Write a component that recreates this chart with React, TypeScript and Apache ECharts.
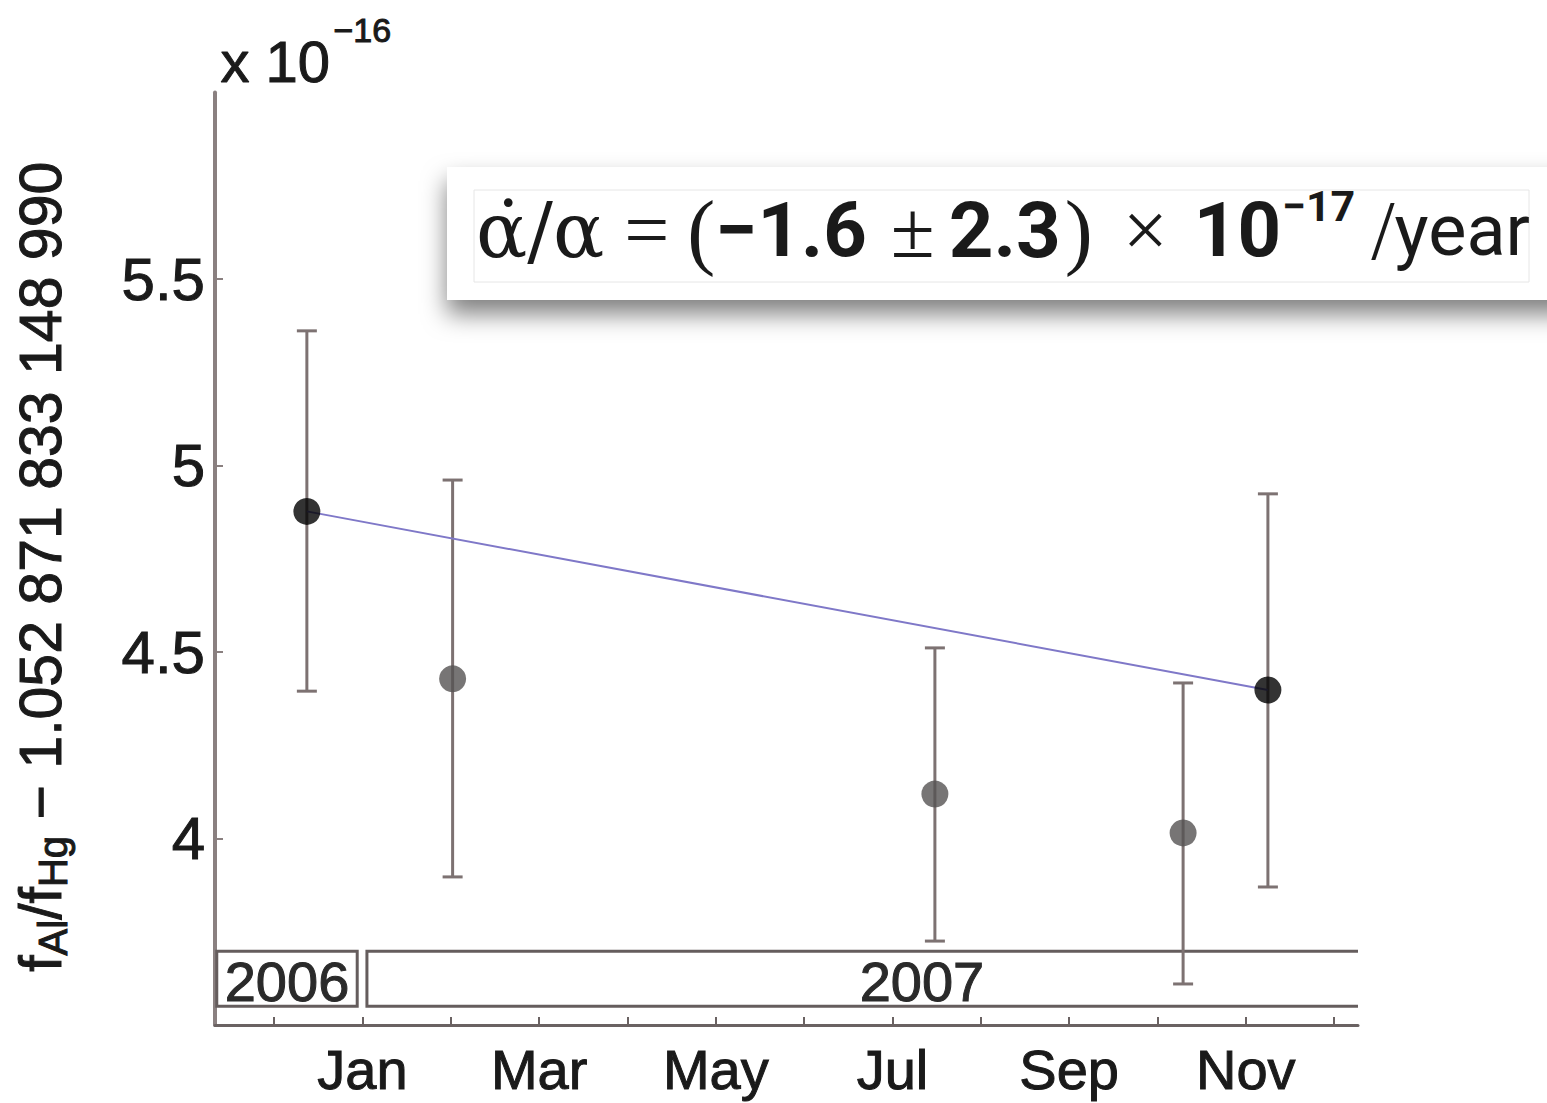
import React, { useEffect, useRef } from 'react';
import * as echarts from 'echarts';

// x values are months counted from 1 Jan 2007 (0 = Jan 2007, -1 = Dec 2006)
const monthTicks = [-1, 0, 1, 2, 3, 4, 5, 6, 7, 8, 9, 10, 11];
const monthLabelValues = [0, 2, 4, 6, 8, 10];
const monthLabels = ['Jan', 'Mar', 'May', 'Jul', 'Sep', 'Nov'];
const yTickValues = [4, 4.5, 5, 5.5];

// measurements (units of 1e-16)
const pointMonths = [-0.63, 1.02, 6.48, 9.29, 10.25];
const pointValues = [4.877, 4.428, 4.119, 4.015, 4.398];
const errLow = [4.395, 3.897, 3.725, 3.61, 3.87];
const errHigh = [5.361, 4.961, 4.511, 4.417, 4.924];
const highlighted = [true, false, false, false, true];

// linear fit
const fitMonths = [-0.63, 10.25];
const fitValues = [4.877, 4.398];

// year bands
const yearLabels = ['2006', '2007'];
const yearStart = [-1.65, 0.05];
const yearEnd = [-0.06, 11.27];
const yearClosed = [true, false];
const bandTop = 3.698;
const bandBottom = 3.55;

const FONT = '"Liberation Sans", Arial, Helvetica, sans-serif';
const INK = '#1a1a1a';
const heavy = { textBorderColor: INK, textBorderWidth: 1 };

export default function App() {
  const ref = useRef<HTMLDivElement>(null);
  useEffect(() => {
    const chart = echarts.init(ref.current!, null, { renderer: 'svg' });
    const axisColor = '#6a6262';
    const barColor = '#7d7272';
    const greekFont = '"DejaVu Serif", serif';
    const opFont = '"Liberation Serif", "Times New Roman", serif';
    const numFont = 'Roboto, "Noto Sans", sans-serif';
    const LH = 92;
    chart.setOption({
      animation: false,
      backgroundColor: '#ffffff',
      grid: { left: 215, top: 92.5, width: 1143, height: 932.5, containLabel: false },
      xAxis: {
        type: 'value',
        min: -1.67,
        max: 11.27,
        axisLine: { show: true, onZero: false, lineStyle: { color: axisColor, width: 3 } },
        axisTick: {
          show: true,
          inside: true,
          length: 8,
          customValues: monthTicks,
          lineStyle: { color: axisColor, width: 2 },
        },
        axisLabel: {
          customValues: monthLabelValues,
          formatter: (v: number) => {
            const i = monthLabelValues.indexOf(Math.round(v));
            return i >= 0 ? monthLabels[i] : '';
          },
          fontSize: 56,
          color: INK,
          fontFamily: FONT,
          margin: 16,
          ...heavy,
        },
        splitLine: { show: false },
      },
      yAxis: {
        type: 'value',
        min: 3.5,
        max: 6,
        axisLine: { show: true, onZero: false, lineStyle: { color: '#8a8080', width: 4 } },
        axisTick: {
          show: true,
          inside: true,
          length: 8,
          customValues: yTickValues,
          lineStyle: { color: '#8a8080', width: 2 },
        },
        axisLabel: {
          customValues: yTickValues,
          formatter: (v: number) => String(v),
          fontSize: 60,
          color: INK,
          fontFamily: FONT,
          margin: 10,
          ...heavy,
        },
        splitLine: { show: false },
        name: '{a|f}{s|Al}{a|/f}{s|Hg}{a| − 1.052 871 833 148 990}',
        nameLocation: 'middle',
        nameRotate: 90,
        nameGap: 142,
        nameTextStyle: {
          padding: [0, 16, 0, 0],
          rich: {
            a: { fontSize: 59, fontFamily: FONT, color: INK, lineHeight: 64, ...heavy },
            s: { fontSize: 40, fontFamily: FONT, color: INK, lineHeight: 6, verticalAlign: 'bottom', ...heavy },
          },
        },
      },
      graphic: [
        {
          type: 'text',
          left: 220,
          top: 32,
          style: { text: 'x 10', fontSize: 58, fontFamily: FONT, fill: INK, stroke: INK, lineWidth: 1 },
        },
        {
          type: 'text',
          left: 333,
          top: 12,
          style: { text: '−16', fontSize: 34, fontFamily: FONT, fill: INK, stroke: INK, lineWidth: 1 },
        },
        {
          type: 'rect',
          shape: { x: 447, y: 167, width: 1130, height: 133 },
          style: {
            fill: '#ffffff',
            shadowBlur: 24,
            shadowOffsetY: 14,
            shadowOffsetX: 0,
            shadowColor: 'rgba(0,0,0,0.5)',
          },
          z: 10,
        },
        {
          type: 'rect',
          shape: { x: 474, y: 190, width: 1055, height: 92 },
          style: { fill: '#ffffff', stroke: '#e6e6e6', lineWidth: 1 },
          z: 11,
        },
        {
          type: 'text',
          x: 476,
          y: 230,
          z: 12,
          style: {
            text:
              '{g|α̇/α}{eq|=}{lp|(}{b|−1.6}{pm|±}{b2|2.3}{rp|)}{x|×}{b3|10}{sup|−17}{sl|/}{r|year}',
            verticalAlign: 'middle',
            rich: {
              g: { fontSize: 76, fontFamily: greekFont, fill: INK, lineHeight: LH },
              eq: { fontSize: 80, fontFamily: opFont, fill: INK, lineHeight: LH, padding: [0, 0, 0, 20] },
              lp: { fontSize: 84, fontFamily: opFont, fill: INK, lineHeight: LH, padding: [0, 0, 0, 18] },
              b: { fontSize: 76, fontFamily: numFont, fontWeight: 'bold', fill: INK, lineHeight: LH },
              pm: { fontSize: 80, fontFamily: opFont, fill: INK, lineHeight: LH, padding: [0, 0, 0, 24] },
              b2: { fontSize: 78, fontFamily: numFont, fontWeight: 'bold', fill: INK, lineHeight: LH, padding: [0, 0, 0, 14] },
              rp: { fontSize: 84, fontFamily: opFont, fill: INK, lineHeight: LH, padding: [0, 0, 0, 4] },
              x: { fontSize: 80, fontFamily: opFont, fill: INK, lineHeight: LH, padding: [0, 0, 0, 30] },
              b3: { fontSize: 76, fontFamily: numFont, fontWeight: 'bold', fill: INK, lineHeight: LH, padding: [0, 0, 0, 26] },
              sup: { fontSize: 43, fontFamily: numFont, fontWeight: 'bold', fill: INK, lineHeight: 46, verticalAlign: 'top', padding: [0, 0, 0, 1] },
              sl: { fontSize: 84, fontFamily: opFont, fill: INK, lineHeight: LH, padding: [0, 0, 0, 16] },
              r: { fontSize: 72, fontFamily: numFont, fill: INK, lineHeight: LH },
            },
          },
        },
      ],
      series: [
        {
          type: 'custom',
          clip: false,
          z: 1,
          silent: true,
          encode: { x: [0, 1], y: [2, 3] },
          data: yearLabels.map((l, i) => [yearStart[i], yearEnd[i], bandTop, bandBottom, i]),
          renderItem: (params: any, api: any) => {
            const s = api.value(0);
            const e = api.value(1);
            const t = api.value(2);
            const b = api.value(3);
            const idx = api.value(4);
            const tl = api.coord([s, t]);
            const tr = api.coord([e, t]);
            const bl = api.coord([s, b]);
            const br = api.coord([e, b]);
            const style = { stroke: '#655d5d', lineWidth: 3, fill: 'none' };
            const outline = yearClosed[idx]
              ? { type: 'polygon', shape: { points: [tl, tr, br, bl] }, style }
              : { type: 'polyline', shape: { points: [tr, tl, bl, br] }, style };
            const cx = yearClosed[idx] ? (tl[0] + tr[0]) / 2 : tl[0] + (tr[0] - tl[0]) * 0.56;
            return {
              type: 'group',
              children: [
                outline,
                {
                  type: 'text',
                  x: cx,
                  y: (tl[1] + bl[1]) / 2 + 3,
                  style: {
                    text: yearLabels[idx],
                    fontSize: 56,
                    fontFamily: FONT,
                    fill: '#2a2a2a',
                    stroke: '#2a2a2a',
                    lineWidth: 1,
                    align: 'center',
                    verticalAlign: 'middle',
                  },
                },
              ],
            };
          },
        },
        {
          type: 'custom',
          clip: false,
          z: 2,
          silent: true,
          encode: { x: 0, y: [1, 2] },
          data: pointMonths.map((m, i) => [m, errLow[i], errHigh[i]]),
          renderItem: (params: any, api: any) => {
            const x = api.value(0);
            const lo = api.coord([x, api.value(1)]);
            const hi = api.coord([x, api.value(2)]);
            const cap = 10;
            const style = { stroke: barColor, lineWidth: 3 };
            return {
              type: 'group',
              children: [
                { type: 'line', shape: { x1: lo[0], y1: lo[1], x2: hi[0], y2: hi[1] }, style },
                { type: 'line', shape: { x1: lo[0] - cap, y1: lo[1], x2: lo[0] + cap, y2: lo[1] }, style },
                { type: 'line', shape: { x1: hi[0] - cap, y1: hi[1], x2: hi[0] + cap, y2: hi[1] }, style },
              ],
            };
          },
        },
        {
          type: 'line',
          z: 3,
          silent: true,
          showSymbol: false,
          data: fitMonths.map((m, i) => [m, fitValues[i]]),
          lineStyle: { color: '#7f78c8', width: 2 },
        },
        {
          type: 'scatter',
          z: 4,
          silent: true,
          symbolSize: 27,
          data: pointMonths.map((m, i) => ({
            value: [m, pointValues[i]],
            itemStyle: { color: highlighted[i] ? '#000000' : '#555252' },
          })),
        },
      ],
    });
    return () => chart.dispose();
  }, []);
  return (
    <div
      ref={ref}
      style={{ position: 'absolute', left: 0, top: 0, width: 1547, height: 1103 }}
    />
  );
}
